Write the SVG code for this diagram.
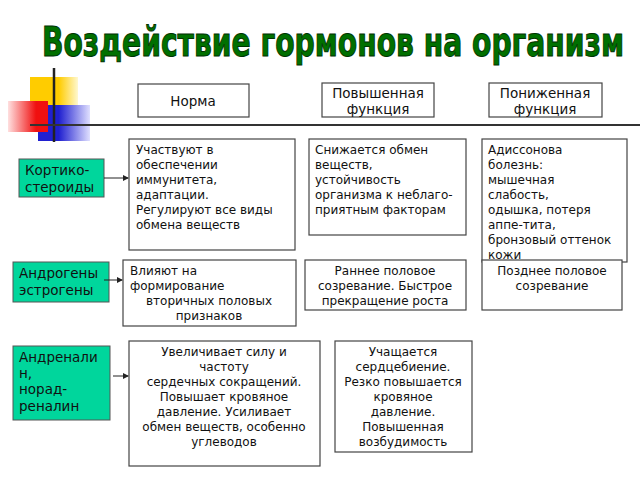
<svg xmlns="http://www.w3.org/2000/svg" width="640" height="480" viewBox="0 0 640 480">
<style>
.b{fill:#fff;stroke:#444;stroke-width:1.2}
.g{fill:#00d69c;stroke:#555;stroke-width:1}
.t{font-family:"DejaVu Sans",sans-serif;font-size:12px;fill:#111}
.h{font-family:"DejaVu Sans",sans-serif;font-size:13.5px;fill:#111}
.c{fill:none;stroke:#222;stroke-width:1}
</style>
<defs>
<marker id="a" markerWidth="6" markerHeight="6" refX="5" refY="3" orient="auto"><path d="M0,0L6,3L0,6z" fill="#222"/></marker>
<linearGradient id="ry" x1="0" x2="1"><stop offset="0.6" stop-color="#ffcc00"/><stop offset="1" stop-color="#fff8d0"/></linearGradient>
<linearGradient id="rr" x1="0" x2="1"><stop offset="0" stop-color="#ffe0e0"/><stop offset="0.7" stop-color="#f01010"/></linearGradient>
<linearGradient id="rb" x1="0" x2="1"><stop offset="0.4" stop-color="#2020d0"/><stop offset="1" stop-color="#e0e0ff"/></linearGradient>
</defs>
<g id="deco">
<rect x="30" y="77" width="48" height="33" fill="url(#ry)"/>
<rect x="38" y="105" width="52" height="36" fill="url(#rb)"/>
<rect x="8" y="101" width="40" height="31" fill="url(#rr)"/>
<line x1="54" y1="68" x2="54" y2="142" stroke="#222" stroke-width="2.5"/>
<line x1="30" y1="125" x2="640" y2="125" stroke="#333" stroke-width="2"/>
</g>
<text x="42" y="56" font-family="'DejaVu Sans Condensed','DejaVu Sans',sans-serif" font-weight="bold" font-size="40" fill="#007000" stroke="#003300" stroke-width="1" textLength="582" lengthAdjust="spacingAndGlyphs">Воздействие гормонов на организм</text>
<g id="h1"><rect class="b" x="138" y="84" width="111" height="33"/><text class="h" x="193" y="106" text-anchor="middle">Норма</text></g>
<g id="h2"><rect class="b" x="322" y="83" width="112" height="34"/><text class="h" x="378" y="98" text-anchor="middle">Повышенная</text><text class="h" x="378" y="114" text-anchor="middle">функция</text></g>
<g id="h3"><rect class="b" x="489" y="83" width="113" height="34"/><text class="h" x="545" y="98" text-anchor="middle">Пониженная</text><text class="h" x="545" y="114" text-anchor="middle">функция</text></g>
<g id="k"><rect class="g" x="19" y="159" width="85" height="38"/><text class="h" x="25" y="175">Кортико-</text><text class="h" x="25" y="192">стероиды</text></g>
<g id="a1"><rect class="g" x="13" y="262" width="96" height="40"/><text class="h" x="19" y="278">Андрогены</text><text class="h" x="19" y="295">эстрогены</text></g>
<g id="ad"><rect class="g" x="13" y="346" width="97" height="74"/><text class="h" x="19" y="362">Андренали</text><text class="h" x="19" y="378">н,</text><text class="h" x="19" y="394">норад-</text><text class="h" x="19" y="411">реналин</text></g>
<g id="r1c1"><rect class="b" x="129" y="139" width="166" height="111"/>
<text class="t" x="136" y="154">Участвуют в</text><text class="t" x="136" y="169">обеспечении</text><text class="t" x="136" y="184">иммунитета,</text><text class="t" x="136" y="199">адаптации.</text><text class="t" x="136" y="214">Регулируют все виды</text><text class="t" x="136" y="229">обмена веществ</text></g>
<g id="r1c2"><rect class="b" x="309" y="139" width="157" height="96"/>
<text class="t" x="315" y="154">Снижается обмен</text><text class="t" x="315" y="169">веществ,</text><text class="t" x="315" y="184">устойчивость</text><text class="t" x="315" y="199">организма к неблаго-</text><text class="t" x="315" y="214">приятным факторам</text></g>
<g id="r1c3"><rect class="b" x="482" y="139" width="145" height="123"/>
<text class="t" x="488" y="154">Адиссонова</text><text class="t" x="488" y="169">болезнь:</text><text class="t" x="488" y="184">мышечная</text><text class="t" x="488" y="199">слабость,</text><text class="t" x="488" y="214">одышка, потеря</text><text class="t" x="488" y="229">аппе-тита,</text><text class="t" x="488" y="244">бронзовый оттенок</text><text class="t" x="488" y="259">кожи</text></g>
<g id="r2c1"><rect class="b" x="123" y="260" width="173" height="66"/>
<text class="t" x="130" y="275">Влияют на</text><text class="t" x="130" y="290">формирование</text><text class="t" x="209" y="305" text-anchor="middle">вторичных половых</text><text class="t" x="209" y="320" text-anchor="middle">признаков</text></g>
<g id="r2c2"><rect class="b" x="305" y="260" width="161" height="50"/>
<text class="t" x="385" y="275" text-anchor="middle">Раннее половое</text><text class="t" x="385" y="290" text-anchor="middle">созревание. Быстрое</text><text class="t" x="385" y="305" text-anchor="middle">прекращение роста</text></g>
<g id="r2c3"><rect class="b" x="482" y="260" width="140" height="50"/>
<text class="t" x="552" y="275" text-anchor="middle">Позднее половое</text><text class="t" x="552" y="290" text-anchor="middle">созревание</text></g>
<g id="r3c1"><rect class="b" x="129" y="341" width="191" height="125"/>
<g class="t" text-anchor="middle"><text x="224" y="356">Увеличивает силу и</text><text x="224" y="371">частоту</text><text x="224" y="386">сердечных сокращений.</text><text x="224" y="401">Повышает кровяное</text><text x="224" y="416">давление. Усиливает</text><text x="224" y="431">обмен веществ, особенно</text><text x="224" y="446">углеводов</text></g></g>
<g id="r3c2"><rect class="b" x="335" y="341" width="137" height="111"/>
<g class="t" text-anchor="middle"><text x="403" y="356">Учащается</text><text x="403" y="371">сердцебиение.</text><text x="403" y="386">Резко повышается</text><text x="403" y="401">кровяное</text><text x="403" y="416">давление.</text><text x="403" y="431">Повышенная</text><text x="403" y="446">возбудимость</text></g></g>
<g id="connectors">
<line class="c" x1="104" y1="178" x2="128" y2="178" marker-end="url(#a)"/>
<line class="c" x1="104" y1="280" x2="122" y2="280" marker-end="url(#a)"/>
<line class="c" x1="113" y1="376" x2="128" y2="376" marker-end="url(#a)"/>
</g>
</svg>
